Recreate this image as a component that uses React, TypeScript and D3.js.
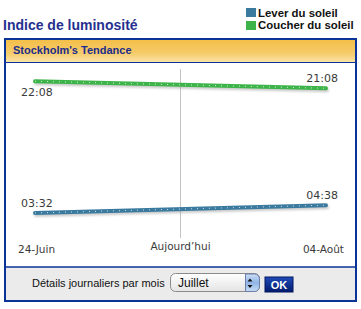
import React from "react";
import * as d3 from "d3";

const title = "Indice de luminosité";
const subtitle = "Stockholm's Tendance";
const seriesNames = ["Lever du soleil", "Coucher du soleil"];
const seriesColors = ["#3a7a9e", "#3db449"];
const dates = ["2024-06-24", "2024-08-04"];
const todayDate = "2024-07-14T12:00";
const sunrise = [212, 278]; // minutes: 03:32, 04:38
const sunset = [1328, 1268]; // minutes: 22:08, 21:08
const xLabels = ["24-Juin", "Aujourd\u2019hui", "04-Août"];
const footerLabel = "Détails journaliers par mois";
const monthLabel = "Juillet";
const okLabel = "OK";

const fmt = (m: number) => {
  const h = Math.floor(m / 60);
  const mm = m % 60;
  return `${String(h).padStart(2, "0")}:${String(mm).padStart(2, "0")}`;
};

export default function App() {
  const W = 361, H = 309;
  const parsed = dates.map((d) => new Date(d + "T00:00"));
  const x = d3.scaleTime().domain(parsed as [Date, Date]).range([35, 326]);
  const y = d3.scaleLinear().domain([0, 1440]).range([238, 68]);
  const line = d3
    .line<{ d: Date; v: number }>()
    .x((p) => x(p.d))
    .y((p) => y(p.v));
  const today = x(new Date(todayDate));
  const series = [sunrise, sunset];
  const labelFont = "'DejaVu Sans', Verdana, sans-serif";

  return (
    <svg width={W} height={H} style={{ position: "absolute", left: 0, top: 0 }}>
      <defs>
        <linearGradient id="hdr" x1="0" y1="0" x2="0" y2="1">
          <stop offset="0" stopColor="#f4bf49" />
          <stop offset="0.6" stopColor="#f6cb6a" />
          <stop offset="1" stopColor="#fbe3a6" />
        </linearGradient>
        <linearGradient id="sel" x1="0" y1="0" x2="0" y2="1">
          <stop offset="0" stopColor="#ffffff" />
          <stop offset="1" stopColor="#e4e4e4" />
        </linearGradient>
        <linearGradient id="step" x1="0" y1="0" x2="0" y2="1">
          <stop offset="0" stopColor="#cfe0f7" />
          <stop offset="0.5" stopColor="#8fb4e6" />
          <stop offset="1" stopColor="#c8dcf6" />
        </linearGradient>
        <linearGradient id="ok" x1="0" y1="0" x2="0" y2="1">
          <stop offset="0" stopColor="#1f4bb8" />
          <stop offset="1" stopColor="#021a6e" />
        </linearGradient>
        <filter id="shadow" x="-5%" y="-50%" width="110%" height="200%">
          <feGaussianBlur stdDeviation="1" />
        </filter>
      </defs>
      <rect x={0} y={0} width={W} height={H} fill="#ffffff" />
      <text x={3} y={30} fontFamily="'Liberation Sans', Arial, sans-serif" fontWeight="bold" fontSize={14} fill="#25308f">
        {title}
      </text>
      {seriesNames.map((n, i) => (
        <g key={n}>
          <rect x={246} y={8 + i * 13} width={10} height={9} fill={seriesColors[i]} />
          <text x={258} y={16.5 + i * 12.5} fontFamily="'Liberation Sans', Arial, sans-serif" fontWeight="bold" fontSize={11.4} fill="#111">
            {n}
          </text>
        </g>
      ))}
      {/* frame */}
      <rect x={5} y={39} width={351} height={262} fill="#ffffff" stroke="#0a3398" strokeWidth={2} />
      <rect x={6} y={40} width={349} height={22} fill="url(#hdr)" />
      <line x1={6} x2={355} y1={62.5} y2={62.5} stroke="#0a3398" strokeWidth={1} />
      <text x={13} y={54} fontFamily="'Liberation Sans', Arial, sans-serif" fontWeight="bold" fontSize={11} fill="#1b2d8c">
        {subtitle}
      </text>
      {/* today line */}
      <line x1={today} x2={today} y1={y(1440) + 1} y2={y(0)} stroke="#c4c4c4" strokeWidth={1} />
      {series.map((vals, i) => {
        const pts = vals.map((v, j) => ({ d: parsed[j], v }));
        const dpath = line(pts) || "";
        return (
          <g key={i}>
            <path d={dpath} transform="translate(1,2)" stroke="#999" strokeWidth={4} strokeOpacity={0.5} fill="none" filter="url(#shadow)" strokeLinecap="round" />
            <path d={dpath} stroke={seriesColors[i]} strokeWidth={4} fill="none" strokeLinecap="round" />
            <path d={dpath} stroke="#ffffff" strokeOpacity={0.75} strokeWidth={1} strokeDasharray="1 5" fill="none" />
          </g>
        );
      })}
      {/* value labels */}
      <g fontFamily={labelFont} fontSize={11} fill="#3a3a3a">
        <text x={21} y={y(sunset[0]) + 15}>{fmt(sunset[0])}</text>
        <text x={338} y={y(sunset[1]) - 6} textAnchor="end">{fmt(sunset[1])}</text>
        <text x={21} y={y(sunrise[0]) - 6}>{fmt(sunrise[0])}</text>
        <text x={338} y={y(sunrise[1]) - 6} textAnchor="end">{fmt(sunrise[1])}</text>
      </g>
      <g fontFamily={labelFont} fontSize={10.5} fill="#3a3a3a">
        <text x={18} y={253}>{xLabels[0]}</text>
        <text x={today} y={250} textAnchor="middle">{xLabels[1]}</text>
        <text x={344} y={253} textAnchor="end">{xLabels[2]}</text>
      </g>
      {/* footer */}
      <rect x={6} y={267} width={349} height={33} fill="#ebebeb" />
      <line x1={6} x2={355} y1={267} y2={267} stroke="#0a3398" strokeWidth={1.5} />
      <text x={32} y={287} fontFamily="'Liberation Sans', Arial, sans-serif" fontSize={11} fill="#111">
        {footerLabel}
      </text>
      <rect x={170.5} y={273.5} width={89} height={18} rx={5} fill="url(#sel)" stroke="#8a8a8a" />
      <text x={178} y={287} fontFamily="'Liberation Sans', Arial, sans-serif" fontSize={12} fill="#111">
        {monthLabel}
      </text>
      <path d="M245.5,274 h9 a5,5 0 0 1 5,5 v7.5 a5,5 0 0 1 -5,5 h-9 z" fill="url(#step)" stroke="#6b7fa6" strokeWidth={1} />
      <path d="M250,278.5 l2.5,3 h-5 z M250,288 l2.5,-3 h-5 z" fill="#111" />
      <rect x={265} y={277} width={28} height={15} fill="url(#ok)" stroke="#021660" strokeWidth={1} />
      <text x={279} y={288.5} textAnchor="middle" fontFamily="'Liberation Sans', Arial, sans-serif" fontWeight="bold" fontSize={11} fill="#ffffff">
        {okLabel}
      </text>
    </svg>
  );
}
